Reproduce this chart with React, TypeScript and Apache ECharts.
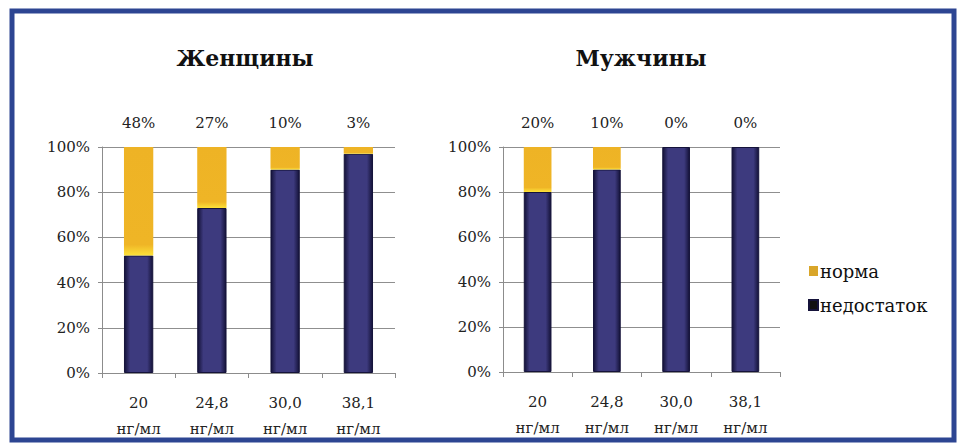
import React, { useEffect, useRef } from "react";
import * as echarts from "echarts";

const categories = ["20\nнг/мл", "24,8\nнг/мл", "30,0\nнг/мл", "38,1\nнг/мл"];
const womenDeficit = [52, 73, 90, 97];
const womenNorm = [48, 27, 10, 3];
const menDeficit = [80, 90, 100, 100];
const menNorm = [20, 10, 0, 0];
const yTicks = [0, 20, 40, 60, 80, 100];
const titles = ["Женщины", "Мужчины"];
const seriesNames = ["норма", "недостаток"];

const FONT = "'DejaVu Serif', 'Liberation Serif', serif";

export default function App() {
  const ref = useRef<HTMLDivElement>(null);
  useEffect(() => {
    document.body.style.margin = "0";
    const chart = echarts.init(ref.current!, null, { renderer: "svg" });
    const navy = new echarts.graphic.LinearGradient(0, 0, 1, 0, [
      { offset: 0, color: "#141238" },
      { offset: 0.2, color: "#3d3a7e" },
      { offset: 0.8, color: "#3d3a7e" },
      { offset: 1, color: "#141238" },
    ]);
    const gold = new echarts.graphic.LinearGradient(0, 0, 0, 1, [
      { offset: 0, color: "#eeb325" },
      { offset: 0.9, color: "#efb526" },
      { offset: 1, color: "#fde23a" },
    ]);
    const grids = [
      { left: 102, top: 147, width: 293, height: 226 },
      { left: 503, top: 147, width: 277, height: 225 },
    ];
    const normArrays = [womenNorm, menNorm];
    const deficitArrays = [womenDeficit, menDeficit];
    const xAxes: any[] = [];
    const yAxes: any[] = [];
    const series: any[] = [];
    [0, 1].forEach((i) => {
      xAxes.push({
        type: "category",
        gridIndex: i,
        data: categories,
        axisLine: { lineStyle: { color: "#8c8c8c", width: 1 } },
        axisTick: { show: true, length: 5, lineStyle: { color: "#8c8c8c" } },
        axisLabel: {
          fontFamily: FONT,
          fontSize: 15,
          color: "#222",
          lineHeight: 26,
          margin: 17,
        },
      });
      xAxes.push({
        type: "category",
        gridIndex: i,
        position: "top",
        data: categories,
        axisLine: { show: false },
        axisTick: { show: false },
        axisLabel: {
          fontFamily: FONT,
          fontSize: 15,
          color: "#222",
          margin: 17,
          formatter: (_v: string, idx: number) => normArrays[i][idx] + "%",
        },
      });
      yAxes.push({
        type: "value",
        gridIndex: i,
        min: 0,
        max: 100,
        interval: 20,
        axisLine: { show: true, lineStyle: { color: "#8c8c8c" } },
        axisTick: { show: true, length: 4, lineStyle: { color: "#8c8c8c" } },
        splitLine: { lineStyle: { color: "#8f8f8f", width: 1.2 } },
        axisLabel: {
          fontFamily: FONT,
          fontSize: 15,
          color: "#222",
          margin: 12,
          formatter: (v: number) => (yTicks.includes(v) ? v + "%" : ""),
        },
      });
      series.push({
        name: seriesNames[1],
        type: "bar",
        stack: "s" + i,
        xAxisIndex: i * 2,
        yAxisIndex: i,
        data: deficitArrays[i],
        barWidth: "40%",
        itemStyle: { color: navy, borderColor: "#15133a", borderWidth: 1 },
      });
      series.push({
        name: seriesNames[0],
        type: "bar",
        stack: "s" + i,
        xAxisIndex: i * 2,
        yAxisIndex: i,
        data: normArrays[i],
        barWidth: "40%",
        itemStyle: { color: gold },
      });
    });
    chart.setOption({
      animation: false,
      backgroundColor: "#ffffff",
      title: [
        {
          text: titles[0],
          left: 240,
          top: 42,
          textAlign: "center",
          textStyle: { fontFamily: FONT, fontSize: 22, fontWeight: "bold", color: "#111" },
        },
        {
          text: titles[1],
          left: 636,
          top: 42,
          textAlign: "center",
          textStyle: { fontFamily: FONT, fontSize: 22, fontWeight: "bold", color: "#111" },
        },
      ],
      legend: {
        orient: "vertical",
        left: 803,
        top: 257,
        itemWidth: 9,
        itemHeight: 10,
        itemGap: 16,
        icon: "rect",
        textStyle: { fontFamily: FONT, fontSize: 18, color: "#111", padding: [0, 0, 0, -3] },
        data: [
          { name: seriesNames[0], itemStyle: { color: "#d9a62a" } },
          { name: seriesNames[1], itemStyle: { color: "#111111" } },
        ],
      },
      grid: grids,
      xAxis: xAxes,
      yAxis: yAxes,
      series,
      graphic: [
        {
          type: "rect",
          shape: { x: 12, y: 11, width: 942, height: 429 },
          style: { fill: "none", stroke: "#2d4592", lineWidth: 5 },
          z: 100,
        },
      ],
    });
    return () => chart.dispose();
  }, []);
  return <div ref={ref} style={{ width: 961, height: 445 }} />;
}
